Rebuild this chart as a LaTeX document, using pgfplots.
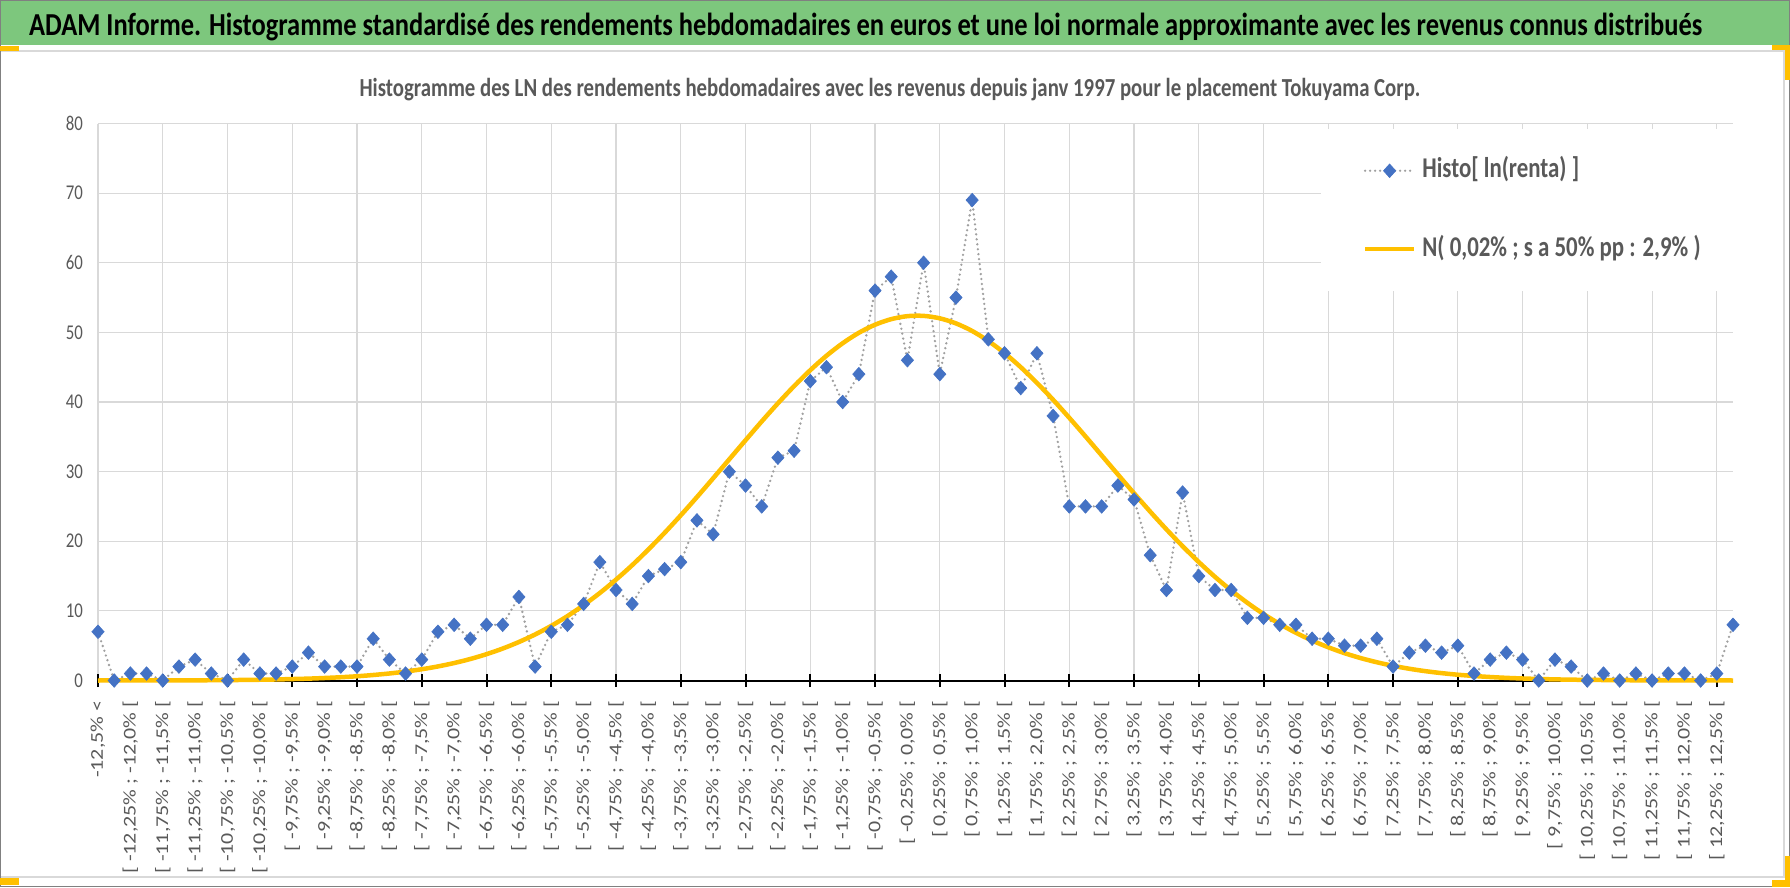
\documentclass[border=0pt]{standalone}
\usepackage{fontspec}
\setmainfont{Carlito}
\usepackage{graphicx}
\usepackage{pgfplots}
\pgfplotsset{compat=1.18}
\usepackage{pgfplotstable}
\usetikzlibrary{backgrounds}

\definecolor{bannergreen}{RGB}{125,199,125}
\definecolor{txtgray}{RGB}{89,89,89}
\definecolor{gridgray}{RGB}{217,217,217}
\definecolor{dotgray}{RGB}{160,160,160}
\definecolor{mblue}{RGB}{68,114,196}
\definecolor{gold}{RGB}{255,192,0}
\definecolor{bordergray}{RGB}{128,128,128}

\newcommand{\xl}[1]{\scalebox{1.22}[1]{\fontsize{18pt}{18pt}\selectfont #1}}
\newcommand{\yl}[1]{\scalebox{0.8}[1]{\fontsize{21pt}{21pt}\selectfont #1}}

\pgfplotstableread{
idx histo norm
0 7 0.00
1 0 0.01
2 1 0.01
3 1 0.01
4 0 0.01
5 2 0.02
6 3 0.03
7 1 0.04
8 0 0.06
9 3 0.08
10 1 0.11
11 1 0.15
12 2 0.21
13 4 0.27
14 2 0.36
15 2 0.47
16 2 0.61
17 6 0.79
18 3 1.01
19 1 1.28
20 3 1.62
21 7 2.02
22 8 2.51
23 6 3.09
24 8 3.78
25 8 4.59
26 12 5.53
27 2 6.61
28 7 7.85
29 8 9.25
30 11 10.83
31 17 12.57
32 13 14.49
33 11 16.57
34 15 18.82
35 16 21.21
36 17 23.73
37 23 26.35
38 21 29.05
39 30 31.78
40 28 34.51
41 25 37.21
42 32 39.81
43 33 42.28
44 43 44.57
45 45 46.64
46 40 48.44
47 44 49.94
48 56 51.10
49 58 51.90
50 46 52.33
51 60 52.37
52 44 52.02
53 55 51.29
54 69 50.20
55 49 48.76
56 47 47.02
57 42 45.00
58 47 42.75
59 38 40.32
60 25 37.73
61 25 35.06
62 25 32.33
63 28 29.60
64 26 26.89
65 18 24.25
66 13 21.71
67 27 19.29
68 15 17.01
69 13 14.89
70 13 12.94
71 9 11.16
72 9 9.55
73 8 8.12
74 8 6.85
75 6 5.74
76 6 4.77
77 5 3.93
78 5 3.22
79 6 2.62
80 2 2.11
81 4 1.69
82 5 1.34
83 4 1.06
84 5 0.83
85 1 0.65
86 3 0.50
87 4 0.38
88 3 0.29
89 0 0.22
90 3 0.16
91 2 0.12
92 0 0.09
93 1 0.07
94 0 0.05
95 1 0.03
96 0 0.02
97 1 0.02
98 1 0.01
99 0 0.01
100 1 0.01
101 8 0.00
}\data

\begin{document}
\begin{tikzpicture}[x=1pt,y=1pt]
\begin{axis}[
  name=ax, at={(0,0)}, anchor=south west,
  scale only axis, width=1635pt, height=557pt,
  xmin=0, xmax=101, ymin=0, ymax=80,
  clip=false,
  axis x line*=bottom, axis y line*=left,
  x axis line style={black, line width=2pt, -},
  y axis line style={draw=none},
  xtick={0,2,...,100},
  xticklabels={
    {\xl{-12,5\% <}},
    {\xl{[ -12,25\% ; -12,0\% [}},
    {\xl{[ -11,75\% ; -11,5\% [}},
    {\xl{[ -11,25\% ; -11,0\% [}},
    {\xl{[ -10,75\% ; -10,5\% [}},
    {\xl{[ -10,25\% ; -10,0\% [}},
    {\xl{[ -9,75\% ; -9,5\% [}},
    {\xl{[ -9,25\% ; -9,0\% [}},
    {\xl{[ -8,75\% ; -8,5\% [}},
    {\xl{[ -8,25\% ; -8,0\% [}},
    {\xl{[ -7,75\% ; -7,5\% [}},
    {\xl{[ -7,25\% ; -7,0\% [}},
    {\xl{[ -6,75\% ; -6,5\% [}},
    {\xl{[ -6,25\% ; -6,0\% [}},
    {\xl{[ -5,75\% ; -5,5\% [}},
    {\xl{[ -5,25\% ; -5,0\% [}},
    {\xl{[ -4,75\% ; -4,5\% [}},
    {\xl{[ -4,25\% ; -4,0\% [}},
    {\xl{[ -3,75\% ; -3,5\% [}},
    {\xl{[ -3,25\% ; -3,0\% [}},
    {\xl{[ -2,75\% ; -2,5\% [}},
    {\xl{[ -2,25\% ; -2,0\% [}},
    {\xl{[ -1,75\% ; -1,5\% [}},
    {\xl{[ -1,25\% ; -1,0\% [}},
    {\xl{[ -0,75\% ; -0,5\% [}},
    {\xl{[ -0,25\% ; 0,0\% [}},
    {\xl{[ 0,25\% ; 0,5\% [}},
    {\xl{[ 0,75\% ; 1,0\% [}},
    {\xl{[ 1,25\% ; 1,5\% [}},
    {\xl{[ 1,75\% ; 2,0\% [}},
    {\xl{[ 2,25\% ; 2,5\% [}},
    {\xl{[ 2,75\% ; 3,0\% [}},
    {\xl{[ 3,25\% ; 3,5\% [}},
    {\xl{[ 3,75\% ; 4,0\% [}},
    {\xl{[ 4,25\% ; 4,5\% [}},
    {\xl{[ 4,75\% ; 5,0\% [}},
    {\xl{[ 5,25\% ; 5,5\% [}},
    {\xl{[ 5,75\% ; 6,0\% [}},
    {\xl{[ 6,25\% ; 6,5\% [}},
    {\xl{[ 6,75\% ; 7,0\% [}},
    {\xl{[ 7,25\% ; 7,5\% [}},
    {\xl{[ 7,75\% ; 8,0\% [}},
    {\xl{[ 8,25\% ; 8,5\% [}},
    {\xl{[ 8,75\% ; 9,0\% [}},
    {\xl{[ 9,25\% ; 9,5\% [}},
    {\xl{[ 9,75\% ; 10,0\% [}},
    {\xl{[ 10,25\% ; 10,5\% [}},
    {\xl{[ 10,75\% ; 11,0\% [}},
    {\xl{[ 11,25\% ; 11,5\% [}},
    {\xl{[ 11,75\% ; 12,0\% [}},
    {\xl{[ 12,25\% ; 12,5\% [}}
  },
  minor xtick={0,4,...,100},
  ytick={0,10,...,80},
  yticklabels={\yl{0},\yl{10},\yl{20},\yl{30},\yl{40},\yl{50},\yl{60},\yl{70},\yl{80}},
  major tick length=0pt,
  minor tick length=13pt,
  tick align=center,
  minor tick style={black, line width=2pt},
  xmajorgrids=false, xminorgrids=true, ymajorgrids=true,
  major grid style={gridgray, line width=1.1pt},
  minor grid style={gridgray, line width=1.1pt},
  xticklabel style={yshift=-20pt, rotate=90, anchor=east, inner sep=0pt, text=txtgray},
  yticklabel style={anchor=east, inner sep=0pt, xshift=-15pt, text=txtgray},
  legend style={at={(0.7478,0.990)}, anchor=north west, draw=none, fill=white,
    inner xsep=42pt, inner ysep=28.5pt, row sep=52.3pt, legend cell align=left,
    nodes={inner sep=0pt, text height=20pt, text depth=6pt, text=txtgray,
      font=\fontsize{28.6pt}{34pt}\selectfont\bfseries},
    /tikz/every odd column/.append style={column sep=6pt}},
  legend image code/.code={\draw[mark repeat=2, mark phase=2, #1] plot coordinates {(0pt,0pt) (24.5pt,0pt) (49pt,0pt)};},
]
\addplot[dotgray, line width=2.6pt, dash pattern=on 0pt off 5pt, line cap=round,
  mark=diamond*, mark size=6.8pt, mark options={solid, fill=mblue, draw=mblue, line width=0.6pt, xscale=1.2}]
  table[x=idx, y=histo]{\data};
\addlegendentry{\scalebox{0.8}[1]{Histo[ ln(renta) ]}}
\addplot[gold, line width=4.5pt, smooth, mark=none] table[x=idx, y=norm]{\data};
\addlegendentry{\scalebox{0.8}[1]{N( 0,02\% ; s a 50\% pp : 2,9\% )}}
\end{axis}

\begin{scope}[shift={(ax.south west)}, xshift=-98pt, yshift=-206.5pt]
\begin{scope}[on background layer]
\fill[white] (0,0) rectangle (1790,887);
\end{scope}
% banner
\fill[bannergreen] (1.5,842.4) rectangle (1788.5,885.5);
\node[anchor=base west, inner sep=0pt] at (29,851.3) {\resizebox{1673pt}{\height}{\fontsize{32pt}{38pt}\selectfont\bfseries ADAM Informe. Histogramme standardisé des rendements hebdomadaires en euros et une loi normale approximante avec les revenus connus distribués}};
% chart area border
\draw[gridgray, line width=1.3pt] (1.5,836) -- (1784,836) -- (1784,10) -- (1.5,10);
\draw[bordergray, line width=1.5pt] (0.75,0.75) rectangle (1789.25,886.25);
% selection marks
\fill[gold] (0,836.3) rectangle (19,841.3);
\fill[gold] (1772,836.5) rectangle (1790,842);
\fill[gold] (1785,807) rectangle (1790,842);
\fill[gold] (0,2) rectangle (19,9);
\fill[gold] (1785,0) rectangle (1790,31);
\fill[gold] (1772,0) rectangle (1790,7);
% subtitle
\node[anchor=base, inner sep=0pt, text=txtgray] at (890,790.3) {\scalebox{0.8}[1]{\fontsize{26pt}{30pt}\selectfont\bfseries Histogramme des LN des rendements hebdomadaires avec les revenus depuis janv 1997 pour le placement Tokuyama Corp.}};
\pgfresetboundingbox
\useasboundingbox (0,0) rectangle (1790,887);
\end{scope}
\end{tikzpicture}
\end{document}
